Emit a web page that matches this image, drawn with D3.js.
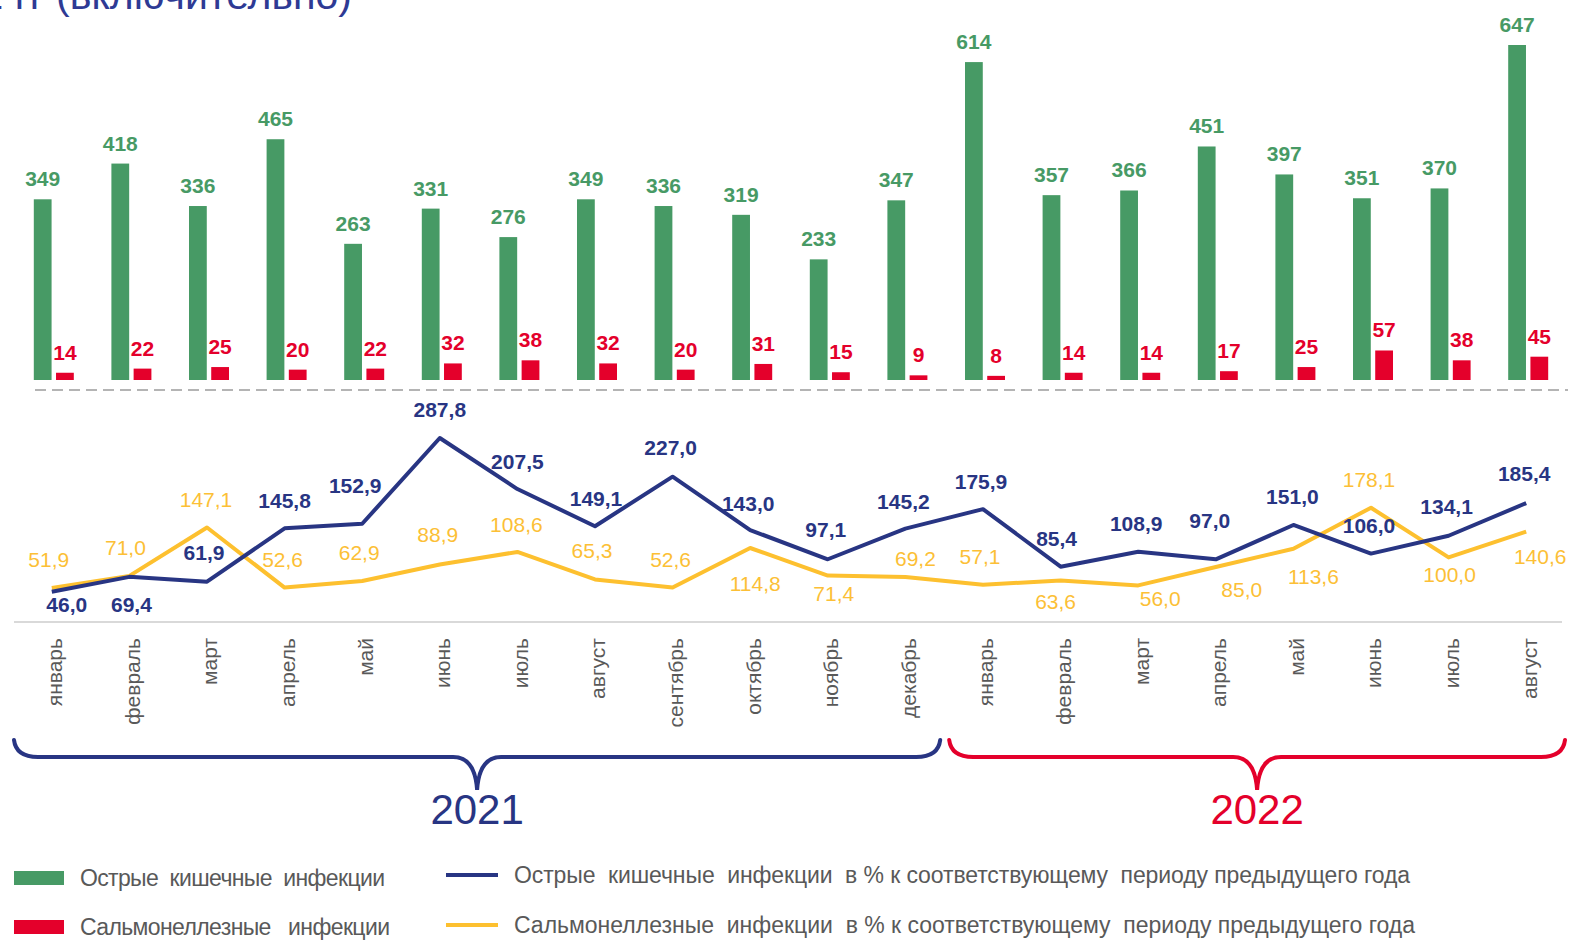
<!DOCTYPE html>
<html>
<head>
	<meta charset="utf-8">
	<title>Кишечные инфекции</title>
	<script src="https://cdnjs.cloudflare.com/ajax/libs/d3/7.8.5/d3.min.js"></script>
	<style type="text/css">
		body { margin: 0; background: #fff; }
		svg { font-family: "Liberation Sans", Arial, sans-serif; }
		.month { font-size: 21px; fill: #595959; }
		.val { font-size: 21px; font-weight: bold; }
		.legend text { font-family: "Liberation Sans Narrow", "Arial Narrow", "Liberation Sans", sans-serif; font-size: 23px; fill: #595959; white-space: pre; }
		path.line { fill: none; stroke-width: 4px; stroke-linejoin: round; }
		path.brace { fill: none; stroke-width: 4px; stroke-linecap: round; }
	</style>
</head>
<body>
<script type="text/javascript">
	"use strict";

	var months = ["январь", "февраль", "март", "апрель", "май", "июнь", "июль", "август",
		"сентябрь", "октябрь", "ноябрь", "декабрь",
		"январь", "февраль", "март", "апрель", "май", "июнь", "июль", "август"];
	var years = [
		{label: "2021", from: 0, to: 11, color: "#283583"},
		{label: "2022", from: 12, to: 19, color: "#e4002b"}
	];

	// absolute counts
	var acute = [349, 418, 336, 465, 263, 331, 276, 349, 336, 319, 233, 347,
		614, 357, 366, 451, 397, 351, 370, 647];
	var salmonella = [14, 22, 25, 20, 22, 32, 38, 32, 20, 31, 15, 9,
		8, 14, 14, 17, 25, 57, 38, 45];

	// % to same period of previous year
	var acutePct = [46.0, 69.4, 61.9, 145.8, 152.9, 287.8, 207.5, 149.1, 227.0, 143.0, 97.1, 145.2,
		175.9, 85.4, 108.9, 97.0, 151.0, 106.0, 134.1, 185.4];
	var salmonellaPct = [51.9, 71.0, 147.1, 52.6, 62.9, 88.9, 108.6, 65.3, 52.6, 114.8, 71.4, 69.2,
		57.1, 63.6, 56.0, 85.0, 113.6, 178.1, 100.0, 140.6];

	// label nudges [dx, dy] relative to the point
	var acuteLabelNudge = [[15, 13], [2, 28], [-3, -29], [0, -28], [-7, -38], [0, -29], [0, -28], [1, -28],
		[-2, -29], [-2, -27], [-2, -30], [-2, -27], [-2, -28], [-4, -28], [-2, -28], [-6, -39],
		[-1, -29], [-2, -28], [-2, -29], [-2, -30]];
	var salmonellaLabelNudge = [[-3, -29], [-4, -28], [-1, -28], [-2, -28], [-3, -29], [-2, -30], [-1, -28], [-3, -29],
		[-2, -28], [5, 35], [6, 18], [10, -19], [-3, -28], [-5, 21], [22, 13], [26, 22],
		[20, 28], [-2, -28], [1, 17], [14, 25]];

	var C = {green: "#479a65", red: "#e4002b", navy: "#283583", yellow: "#fdc02f", yellowText: "#fcbf36"};

	var W = 1572, H = 940;
	var svg = d3.select("body").append("svg")
		.attr("width", W)
		.attr("height", H);

	// title fragment cut at the top
	svg.append("text")
		.attr("x", 352)
		.attr("y", 9)
		.attr("text-anchor", "end")
		.attr("fill", "#2e3a94")
		.style("font-size", "41px")
		.text("2021-2022 гг (включительно)");

	var x0 = d3.scaleBand()
		.domain(d3.range(months.length))
		.range([15, 1567]);
	var x1 = d3.scaleBand()
		.domain([0, 1])
		.range([-20, 20])
		.paddingInner(0.2);
	var cx = function(i) { return x0(i) + x0.bandwidth() / 2; };

	var yBar = d3.scaleLinear().domain([0, 647]).range([380, 45]);
	var yPct = d3.scaleLinear().domain([0, 287.8]).range([621, 438]);

	// bars
	var bars = [
		{values: acute, color: C.green, k: 0},
		{values: salmonella, color: C.red, k: 1}
	];
	bars.forEach(function(s) {
		var g = svg.append("g");
		g.selectAll("rect")
			.data(s.values)
			.enter()
			.append("rect")
				.attr("x", function(d, i) { return cx(i) + x1(s.k); })
				.attr("width", x1.bandwidth())
				.attr("y", function(d) { return yBar(d); })
				.attr("height", function(d) { return yBar(0) - yBar(d); })
				.attr("fill", s.color);
		g.selectAll("text")
			.data(s.values)
			.enter()
			.append("text")
				.attr("class", "val")
				.attr("x", function(d, i) { return cx(i) + x1(s.k) + x1.bandwidth() / 2; })
				.attr("y", function(d) { return yBar(d) - 13; })
				.attr("text-anchor", "middle")
				.attr("fill", s.color)
				.text(function(d) { return d; });
	});

	// dashed separator
	svg.append("line")
		.attr("x1", 35).attr("x2", 1568)
		.attr("y1", 390).attr("y2", 390)
		.attr("stroke", "#b4b4b4")
		.attr("stroke-width", 2)
		.attr("stroke-dasharray", "11,6");

	// baseline of the lower panel
	svg.append("line")
		.attr("x1", 14).attr("x2", 1562)
		.attr("y1", 622).attr("y2", 622)
		.attr("stroke", "#d9d9d9")
		.attr("stroke-width", 2);

	var fmt = function(v) { return v.toFixed(1).replace(".", ","); };

	var line = d3.line()
		.x(function(d, i) { return cx(i) - 2; })
		.y(function(d) { return yPct(d); });

	var lines = [
		{values: salmonellaPct, color: C.yellow, text: C.yellowText, nudge: salmonellaLabelNudge},
		{values: acutePct, color: C.navy, text: C.navy, nudge: acuteLabelNudge}
	];
	lines.forEach(function(s) {
		svg.append("path")
			.attr("class", "line")
			.attr("d", line(s.values))
			.attr("stroke", s.color);
	});
	lines.forEach(function(s) {
		svg.append("g").selectAll("text")
			.data(s.values)
			.enter()
			.append("text")
				.attr("class", "val")
				.attr("x", function(d, i) { return cx(i) - 2 + s.nudge[i][0]; })
				.attr("y", function(d, i) { return yPct(d) + s.nudge[i][1]; })
				.attr("dy", "0.36em")
				.attr("text-anchor", "middle")
				.attr("fill", s.text)
				.style("font-weight", s.color === C.navy ? "bold" : "normal")
				.text(fmt);
	});

	// month labels
	svg.append("g").selectAll("text")
		.data(months)
		.enter()
		.append("text")
			.attr("class", "month")
			.attr("transform", function(d, i) { return "translate(" + (cx(i) + 1) + ",638) rotate(-90)"; })
			.attr("text-anchor", "end")
			.attr("dy", "0.35em")
			.text(function(d) { return d; });

	// year braces
	years.forEach(function(yr, n) {
		var a = x0(yr.from) + (n === 0 ? -1 : 3),
			b = x0(yr.to) + x0.bandwidth() - (n === 0 ? 6 : 2),
			m = (a + b) / 2,
			top = 740, mid = 757, tip = 790;
		var p = d3.path();
		p.moveTo(a, top);
		p.quadraticCurveTo(a + 2, mid, a + 24, mid);
		p.lineTo(m - 24, mid);
		p.quadraticCurveTo(m - 2, mid, m, tip);
		p.quadraticCurveTo(m + 2, mid, m + 24, mid);
		p.lineTo(b - 24, mid);
		p.quadraticCurveTo(b - 2, mid, b, top);
		svg.append("path")
			.attr("class", "brace")
			.attr("d", p.toString())
			.attr("stroke", yr.color);
		svg.append("text")
			.attr("x", m)
			.attr("y", 824)
			.attr("text-anchor", "middle")
			.attr("fill", yr.color)
			.style("font-size", "42px")
			.text(yr.label);
	});

	// legend
	var legend = svg.append("g").attr("class", "legend");
	var legendItems = [
		{kind: "rect", color: C.green, x: 14, y: 878, tx: 80, len: 305, label: "Острые  кишечные  инфекции"},
		{kind: "rect", color: C.red, x: 14, y: 927, tx: 80, len: 310, label: "Сальмонеллезные   инфекции"},
		{kind: "line", color: C.navy, x: 446, y: 875, tx: 514, len: 896, label: "Острые  кишечные  инфекции  в % к соответствующему  периоду предыдущего года"},
		{kind: "line", color: C.yellow, x: 446, y: 925, tx: 514, len: 901, label: "Сальмонеллезные  инфекции  в % к соответствующему  периоду предыдущего года"}
	];
	legendItems.forEach(function(d) {
		if (d.kind === "rect") {
			legend.append("rect")
				.attr("x", d.x).attr("y", d.y - 7)
				.attr("width", 50).attr("height", 14)
				.attr("fill", d.color);
		} else {
			legend.append("line")
				.attr("x1", d.x).attr("x2", d.x + 52)
				.attr("y1", d.y).attr("y2", d.y)
				.attr("stroke", d.color)
				.attr("stroke-width", 4);
		}
		legend.append("text")
			.attr("x", d.tx)
			.attr("y", d.y)
			.attr("dy", "0.35em")
			.attr("textLength", d.len)
			.attr("lengthAdjust", "spacing")
			.text(d.label);
	});
</script>
</body>
</html>
